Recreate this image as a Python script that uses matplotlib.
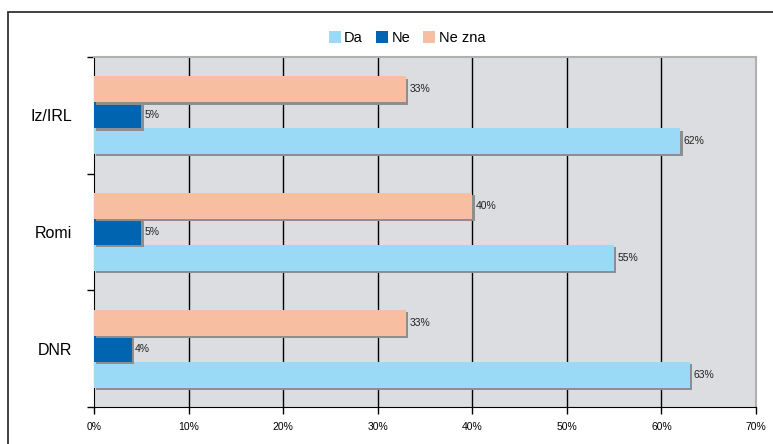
import matplotlib
matplotlib.use('Agg')
import numpy as np
from matplotlib import pyplot as plt
from matplotlib import patheffects as pe
from matplotlib.patches import Rectangle, Patch

plt.rcParams['font.family'] = ['Liberation Sans', 'DejaVu Sans']

categories = ['DNR', 'Romi', 'Iz/IRL']
da = [63, 55, 62]
ne = [4, 5, 5]
ne_zna = [33, 40, 33]
series_names = ['Da', 'Ne', 'Ne zna']
colors = ['#9bdaf6', '#0064b0', '#f8bea1']

W, H = 773, 444
fig = plt.figure(figsize=(W / 100, H / 100), dpi=100)
ax = fig.add_axes([94 / W, 1 - 407 / H, (756 - 94) / W, (407 - 57) / H])
ax.set_facecolor('#dcdde0')

# figure border (only top/left visible in the reference)
fig.patches.append(Rectangle((8 / W, -0.1), 1.2, 1 - 12 / H + 0.1, transform=fig.transFigure,
                             fill=False, edgecolor='#333333', linewidth=1.3))

y = np.arange(len(categories))
h = 0.222
shadow = [pe.SimplePatchShadow(offset=(1.6, -1.6), shadow_rgbFace='#8e8e8e', alpha=1), pe.Normal()]
for i, (vals, col) in enumerate(zip([da, ne, ne_zna], colors)):
    bars = ax.barh(y + (i - 1) * h, vals, height=h, color=col, zorder=3)
    for b, v in zip(bars, vals):
        b.set_path_effects(shadow)
        ax.text(v + 0.35, b.get_y() + h / 2, f'{v}%', va='center', ha='left', fontsize=7.5,
                color='#222222', zorder=4)

ax.set_xlim(0, 70)
ax.set_ylim(-0.5, 2.5)
ax.set_xticks(np.arange(0, 71, 10))
ax.set_xticklabels([f'{t}%' for t in range(0, 71, 10)], fontsize=7.5)
ax.set_yticks(y)
ax.set_yticklabels(categories, fontsize=11.5)
ax.tick_params(axis='y', length=0, pad=16)
ax.set_yticks([-0.5, 0.5, 1.5, 2.5], minor=True)
ax.tick_params(axis='y', which='minor', length=5, width=1, direction='out')
ax.tick_params(axis='x', length=5, width=1, direction='out', pad=6)

for t in range(10, 70, 10):
    ax.axvline(t, color='black', linewidth=1, zorder=1)

ax.spines['left'].set_color('black')
ax.spines['bottom'].set_color('black')
ax.spines['top'].set_color('#b0b0b0')
ax.spines['right'].set_color('#b0b0b0')
ax.spines['top'].set_linewidth(1.5)
ax.spines['right'].set_linewidth(1.5)

handles = [Patch(facecolor=c, edgecolor='none') for c in colors]
fig.legend(handles, series_names, loc='center', bbox_to_anchor=(407 / W, 1 - 38 / H), ncol=3,
           frameon=False, fontsize=10.5, handlelength=0.8, handleheight=0.8,
           handletextpad=0.25, columnspacing=0.9)

fig.savefig('out.png', dpi=100)
